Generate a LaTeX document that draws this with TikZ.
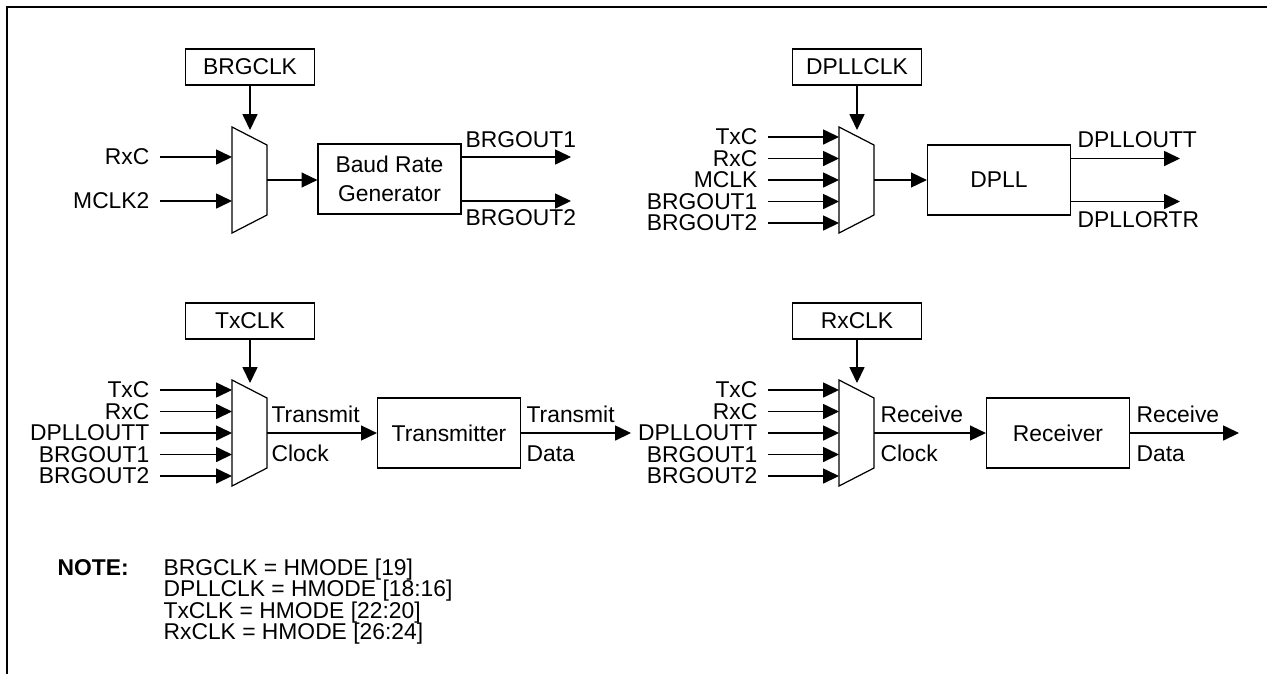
\documentclass[tikz,border=0pt]{standalone}
\usepackage{fontspec}
\setmainfont{Liberation Sans}
\usetikzlibrary{arrows.meta}

\begin{document}
\begin{tikzpicture}[
  x=0.02cm, y=-0.02cm,
  font=\fontsize{13}{15}\selectfont,
  line width=0.7pt,
  arr/.style={-{Triangle[length=9pt,width=8.5pt]}},
  selbox/.style={draw, minimum width=2.58cm, minimum height=0.72cm, inner sep=0pt},
  blk/.style={draw, minimum width=2.86cm, minimum height=1.4cm, inner sep=0pt, align=center},
  inlbl/.style={anchor=east, inner xsep=0.2cm, inner ysep=0pt},
  outlbl/.style={anchor=base west, inner sep=0pt}]

\useasboundingbox (0,0) rectangle (1267,674);
\draw[line width=1.6pt] (7,674) -- (7,7) -- (1267,7);

% baud rate generator
\node[selbox] (brgclk) at (250,67) {BRGCLK};
\draw (232,127) coordinate (brgmux) -- (267,145) -- (267,215) -- (232,233) -- cycle;
\coordinate (brgsel) at (250,130);
\coordinate (brgmuxout) at (267,180);
\draw[arr] (brgclk) -- (brgsel);
\foreach \txt/\yy [count=\i] in {RxC/157, MCLK2/201}{
  \node[inlbl] (brgin\i) at (160,\yy) {\txt};
  \draw[arr] (brgin\i) -- (brgin\i -| brgmux);
}
\node[blk, font=\fontsize{13}{16.5}\selectfont] (baud) at (389.5,179) {Baud Rate\\Generator};
\draw[arr] (brgmuxout) -- (brgmuxout -| baud.west);
\coordinate (brgout1) at (571,157);
\coordinate (brgout2) at (571,201);
\draw[arr] (baud.east |- brgout1) -- (brgout1);
\draw[arr] (baud.east |- brgout2) -- (brgout2);
\node[outlbl] (brgout1lbl) at (465,147) {BRGOUT1};
\node[outlbl] (brgout2lbl) at (465,225) {BRGOUT2};

% dpll
\node[selbox] (dpllclk) at (857,67) {DPLLCLK};
\draw (839,127) coordinate (dpllmux) -- (874,145) -- (874,215) -- (839,233) -- cycle;
\coordinate (dpllsel) at (857,130);
\coordinate (dpllmuxout) at (874,180);
\draw[arr] (dpllclk) -- (dpllsel);
\foreach \txt/\yy [count=\i] in {TxC/137, RxC/158.5, MCLK/180, BRGOUT1/201.5, BRGOUT2/223}{
  \node[inlbl] (dpllin\i) at (768,\yy) {\txt};
  \draw[arr] (dpllin\i) -- (dpllin\i -| dpllmux);
}
\node[blk] (dpll) at (999,180) {DPLL};
\draw[arr] (dpllmuxout) -- (dpllmuxout -| dpll.west);
\coordinate (dpllout1) at (1180,158.5);
\coordinate (dpllout2) at (1180,201.5);
\draw[arr] (dpll.east |- dpllout1) -- (dpllout1);
\draw[arr] (dpll.east |- dpllout2) -- (dpllout2);
\node[outlbl] (dpllout1lbl) at (1077,147) {DPLLOUTT};
\node[outlbl] (dpllout2lbl) at (1077,227) {DPLLORTR};

% transmitter
\node[selbox] (txclk) at (250,321) {TxCLK};
\draw (232,380) coordinate (txmux) -- (267,398) -- (267,468) -- (232,486) -- cycle;
\coordinate (txsel) at (250,383);
\coordinate (txmuxout) at (267,433);
\draw[arr] (txclk) -- (txsel);
\foreach \txt/\yy [count=\i] in {TxC/390, RxC/411.5, DPLLOUTT/433, BRGOUT1/454.5, BRGOUT2/476}{
  \node[inlbl] (txin\i) at (160,\yy) {\txt};
  \draw[arr] (txin\i) -- (txin\i -| txmux);
}
\node[blk] (tx) at (449,433) {Transmitter};
\draw[arr] (txmuxout) -- (txmuxout -| tx.west);
\coordinate (txdata) at (631,433);
\draw[arr] (tx) -- (txdata);
\node[outlbl] (txclklbl) at (271,422) {Transmit};
\node[outlbl] (txclklbl2) at (271,461) {Clock};
\node[outlbl] (txdatalbl) at (526,422) {Transmit};
\node[outlbl] (txdatalbl2) at (526,461) {Data};

% receiver
\node[selbox] (rxclk) at (857,321) {RxCLK};
\draw (839,380) coordinate (rxmux) -- (874,398) -- (874,468) -- (839,486) -- cycle;
\coordinate (rxsel) at (857,383);
\coordinate (rxmuxout) at (874,433);
\draw[arr] (rxclk) -- (rxsel);
\foreach \txt/\yy [count=\i] in {TxC/390, RxC/411.5, DPLLOUTT/433, BRGOUT1/454.5, BRGOUT2/476}{
  \node[inlbl] (rxin\i) at (768,\yy) {\txt};
  \draw[arr] (rxin\i) -- (rxin\i -| rxmux);
}
\node[blk] (rx) at (1058,433) {Receiver};
\draw[arr] (rxmuxout) -- (rxmuxout -| rx.west);
\coordinate (rxdata) at (1239,433);
\draw[arr] (rx) -- (rxdata);
\node[outlbl] (rxclklbl) at (880,422) {Receive};
\node[outlbl] (rxclklbl2) at (880,461) {Clock};
\node[outlbl] (rxdatalbl) at (1136,422) {Receive};
\node[outlbl] (rxdatalbl2) at (1136,461) {Data};

% note
\node[outlbl, font=\fontsize{13}{15}\selectfont\bfseries] (note) at (57,575) {NOTE:};
\foreach \txt [count=\i] in {{BRGCLK = HMODE [19]}, {DPLLCLK = HMODE [18:16]}, {TxCLK = HMODE [22:20]}, {RxCLK = HMODE [26:24]}}{
  \node[outlbl] (note\i) at (163,{575+21.5*(\i-1)}) {\txt};
}
\end{tikzpicture}
\end{document}
